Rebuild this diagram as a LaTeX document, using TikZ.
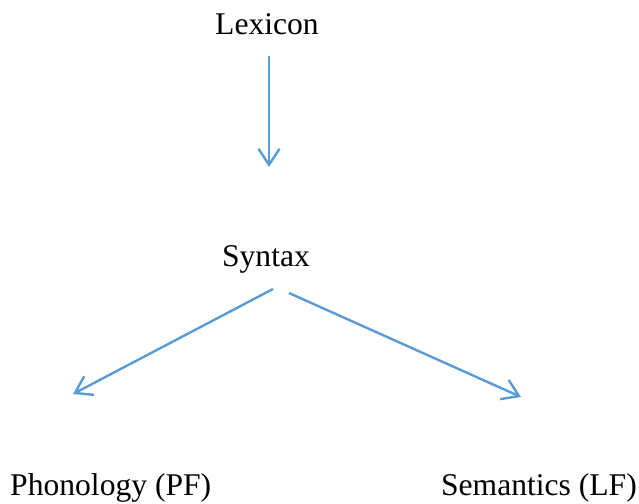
\documentclass[tikz,border=0pt]{standalone}
\usepackage{fontspec}
\setmainfont{Liberation Serif}
\usetikzlibrary{arrows.meta}
\definecolor{arrblue}{HTML}{5B9BD5}
\tikzset{
  lbl/.style={anchor=base, inner sep=0pt, font=\fontsize{31.6}{36}\selectfont},
  conn/.style={draw=arrblue, line width=2.4pt, -{Straight Barb[length=16pt, width=21pt, line width=2.4pt]}}
}
\begin{document}
\begin{tikzpicture}[x=1pt, y=-1pt]
\useasboundingbox (0,0) rectangle (639,503);
\node[lbl] (lex) at (267,35) {Lexicon};
\node[lbl] (syn) at (266,266) {Syntax};
\node[lbl, anchor=base west] (pf) at (10,495) {Phonology (PF)};
\node[lbl, anchor=base east] (lf) at (637,495) {Semantics (LF)};
\coordinate (lexout) at (269,56);
\coordinate (synin) at (269,167);
\coordinate (synl) at (273,289);
\coordinate (pfin) at (73,394);
\coordinate (synr) at (289,293);
\coordinate (lfin) at (521,397);
\draw[conn] (lexout) -- (synin);
\draw[conn] (synl) -- (pfin);
\draw[conn] (synr) -- (lfin);
\end{tikzpicture}
\end{document}
